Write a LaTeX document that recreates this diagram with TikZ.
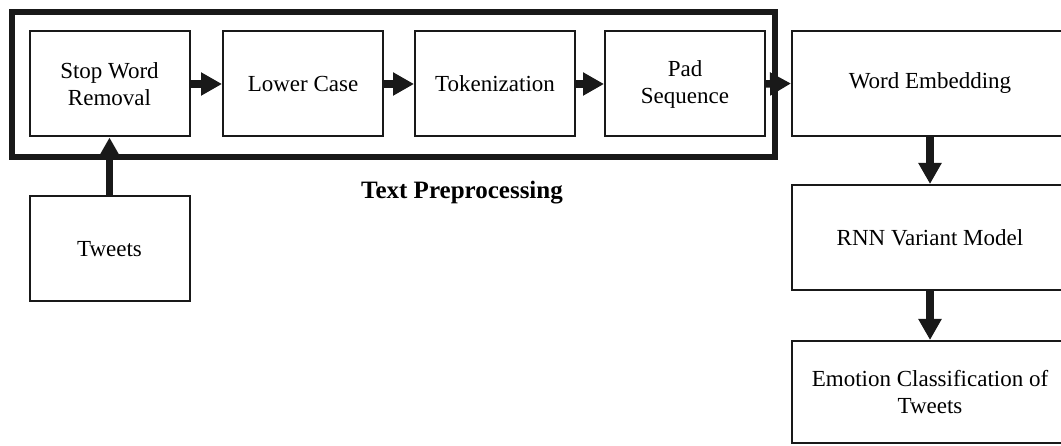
\documentclass[tikz,border=0pt]{standalone}
\usepackage{fontspec}
\setmainfont{Liberation Serif}
\usetikzlibrary{arrows.meta}
\begin{document}
\begin{tikzpicture}[x=1pt,y=-1pt,
  box/.style={draw=black!90,line width=2pt,rectangle,inner sep=0pt,
    minimum width=160pt,minimum height=105pt,align=center,
    font=\fontsize{23}{27}\selectfont},
  wide/.style={box,minimum width=276pt},
  flow/.style={draw=black!90,line width=7.5pt,
    -{Triangle[length=21pt,width=22pt]}},
  group/.style={draw=black!90,line width=5.5pt}]
\useasboundingbox (0,0) rectangle (1061,446);
\clip (0,0) rectangle (1061,446);
\draw[group] (12,12) rectangle (775,157);
\node[box] (sw) at (109.5,84) {Stop Word\\Removal};
\node[box] (lc) at (303,84) {Lower Case};
\node[box] (tk) at (495,84) {Tokenization};
\node[box] (ps) at (685,84) {Pad\\Sequence};
\node[wide] (we) at (930,83.5) {Word Embedding};
\node[wide] (rnn) at (930,237.5) {RNN Variant Model};
\node[wide,minimum height=102pt] (ec) at (930,392) {Emotion Classification of\\Tweets};
\node[box] (tw) at (109.5,249) {Tweets};
\node[font=\fontsize{25}{30}\selectfont\bfseries] (lbl) at (462,193) {Text Preprocessing};
\draw[flow] (sw.east) -- (lc.west);
\draw[flow] (lc.east) -- (tk.west);
\draw[flow] (tk.east) -- (ps.west);
\draw[flow] (ps.east) -- (we.west);
\draw[flow] (tw.north) -- (sw.south);
\draw[flow] (we.south) -- (rnn.north);
\draw[flow] (rnn.south) -- (ec.north);
\end{tikzpicture}
\end{document}
